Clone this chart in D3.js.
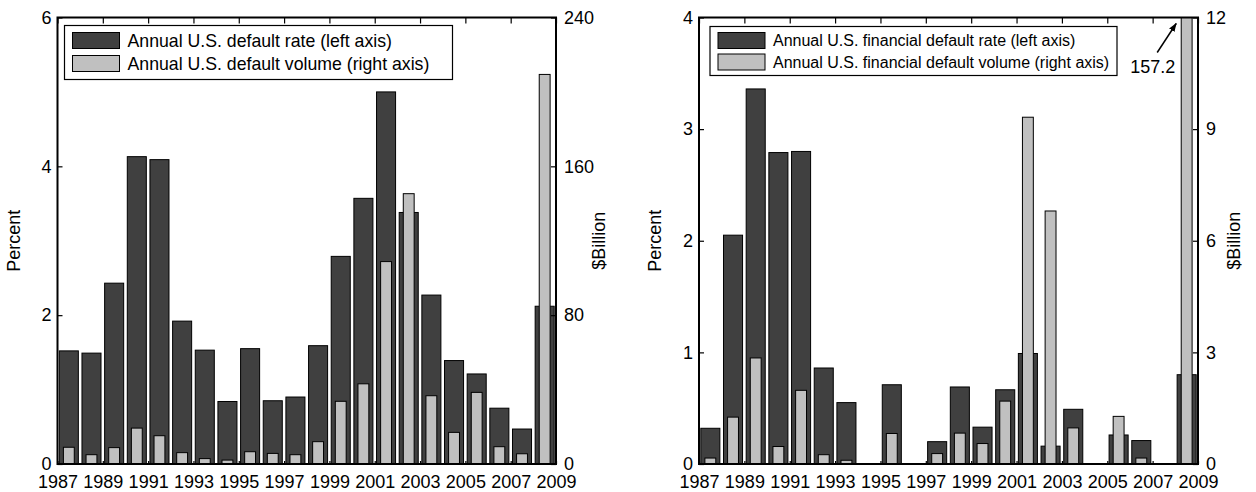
<!DOCTYPE html>
<html>
<head>
<meta charset="utf-8">
<script src="https://cdn.jsdelivr.net/npm/d3@7"></script>
<style>
    body { margin: 0; background: #fff; }
    svg { display: block; font-family: "Liberation Sans", Arial, Helvetica, sans-serif; }
</style>
</head>
<body>
<div id="chart"></div>
<script>
// years 1987..2008 (bars sit between the year ticks)
const years = [1987, 1988, 1989, 1990, 1991, 1992, 1993, 1994, 1995, 1996, 1997,
               1998, 1999, 2000, 2001, 2002, 2003, 2004, 2005, 2006, 2007, 2008];
const xTicks = [1987, 1989, 1991, 1993, 1995, 1997, 1999, 2001, 2003, 2005, 2007, 2009];

// left panel
const defaultRate = [1.52, 1.49, 2.43, 4.13, 4.09, 1.92, 1.53, 0.84, 1.55, 0.85, 0.90,
                     1.59, 2.79, 3.57, 5.00, 3.38, 2.27, 1.39, 1.21, 0.75, 0.47, 2.12];
const defaultVolume = [9.0, 5.0, 8.8, 19.3, 15.2, 6.1, 2.9, 2.1, 6.6, 5.7, 5.0,
                       12.0, 33.7, 43.1, 108.8, 145.3, 36.7, 17.0, 38.5, 9.3, 5.5, 209.4];
const rateTicksA = [0, 2, 4, 6];
const volTicksA = [0, 80, 160, 240];

// right panel
const finRate = [0.32, 2.05, 3.36, 2.79, 2.80, 0.86, 0.55, 0, 0.71, 0, 0.20,
                 0.69, 0.33, 0.665, 0.99, 0.16, 0.49, 0, 0.26, 0.21, 0, 0.80];
const finVolume = [0.16, 1.26, 2.85, 0.47, 1.98, 0.25, 0.10, 0, 0.82, 0, 0.28,
                   0.83, 0.55, 1.69, 9.32, 6.80, 0.97, 0, 1.28, 0.16, 0, 157.2];
const rateTicksB = [0, 1, 2, 3, 4];
const volTicksB = [0, 3, 6, 9, 12];

const W = 1256, H = 492;
const DARK = "#404040", LIGHT = "#c0c0c0";

const svg = d3.select("#chart").append("svg")
    .attr("width", W)
    .attr("height", H);

svg.append("defs").append("marker")
    .attr("id", "arrow")
    .attr("viewBox", "0 0 10 10")
    .attr("refX", 9).attr("refY", 5)
    .attr("markerWidth", 9).attr("markerHeight", 9)
    .attr("markerUnits", "userSpaceOnUse")
    .attr("orient", "auto")
    .append("path")
    .attr("d", "M0,1.5 L10,5 L0,8.5 Z")
    .attr("fill", "black");

class DUALBAR {
    constructor({
        left, right, top = 17.5, bottom = 464,
        rate, volume, rateTicks, volTicks,
        legend, legendBox, fontLegend = 18,
        clipId
    }) {
        this.g = svg.append("g");
        this.left = left; this.right = right;
        this.top = top; this.bottom = bottom;

        this.x = d3.scaleLinear()
            .domain([xTicks[0], xTicks[xTicks.length - 1]])
            .range([left, right]);
        this.yRate = d3.scaleLinear()
            .domain([0, d3.max(rateTicks)])
            .range([bottom, top]);
        this.yVol = d3.scaleLinear()
            .domain([0, d3.max(volTicks)])
            .range([bottom, top]);

        const step = this.x(1988) - this.x(1987);
        const volMax = d3.max(volTicks);

        this.g.append("clipPath").attr("id", clipId)
            .append("rect")
            .attr("x", left).attr("y", top)
            .attr("width", right - left).attr("height", bottom - top);

        const bars = this.g.append("g").attr("clip-path", `url(#${clipId})`);

        // dark bars (rate, left axis)
        bars.append("g").selectAll("rect")
            .data(years.map((y, i) => ({ year: y, v: rate[i] })))
            .enter().append("rect")
            .attr("x", d => this.x(d.year + 0.5) - step * 0.42)
            .attr("width", step * 0.84)
            .attr("y", d => this.yRate(d.v))
            .attr("height", d => this.yRate(0) - this.yRate(d.v))
            .attr("fill", DARK)
            .attr("stroke", "black")
            .attr("stroke-width", 1);

        // light bars (volume, right axis) - off-scale ones run past the frame
        bars.append("g").selectAll("rect")
            .data(years.map((y, i) => ({ year: y, v: volume[i] })))
            .enter().append("rect")
            .attr("x", d => this.x(d.year + 0.5) - step * 0.24)
            .attr("width", step * 0.48)
            .attr("y", d => d.v > volMax ? top - 2 : this.yVol(d.v))
            .attr("height", d => this.yVol(0) - (d.v > volMax ? top - 2 : this.yVol(d.v)))
            .attr("fill", LIGHT)
            .attr("stroke", "black")
            .attr("stroke-width", 1);

        // axes
        const fontTick = 18;
        const styleAxis = (sel) => {
            sel.select(".domain").remove();
            sel.selectAll("line").attr("stroke", "black").attr("stroke-width", 1.2);
            sel.selectAll("text").attr("font-size", fontTick).attr("fill", "black")
               .attr("font-family", null);
        };

        this.g.append("g")
            .attr("transform", `translate(0,${bottom})`)
            .call(d3.axisBottom(this.x).tickValues(xTicks).tickFormat(d3.format("d"))
                .tickSizeInner(-3).tickSizeOuter(0).tickPadding(11))
            .call(styleAxis);

        this.g.append("g")
            .attr("transform", `translate(0,${top})`)
            .call(d3.axisTop(this.x).tickValues(xTicks).tickFormat("")
                .tickSizeInner(-6).tickSizeOuter(0))
            .call(styleAxis);

        this.g.append("g")
            .attr("transform", `translate(${left},0)`)
            .call(d3.axisLeft(this.yRate).tickValues(rateTicks).tickFormat(d3.format("d"))
                .tickSizeInner(-5).tickSizeOuter(0).tickPadding(6))
            .call(styleAxis);

        this.g.append("g")
            .attr("transform", `translate(${right},0)`)
            .call(d3.axisRight(this.yVol).tickValues(volTicks).tickFormat(d3.format("d"))
                .tickSizeInner(-5).tickSizeOuter(0).tickPadding(8))
            .call(styleAxis);

        // frame
        this.g.append("rect")
            .attr("x", left).attr("y", top)
            .attr("width", right - left).attr("height", bottom - top)
            .attr("fill", "none")
            .attr("stroke", "black")
            .attr("stroke-width", 2);

        // axis titles
        const midY = (top + bottom) / 2;
        this.g.append("text")
            .attr("transform", `translate(${left - 38},${midY}) rotate(-90)`)
            .attr("text-anchor", "middle")
            .attr("font-size", 18)
            .text("Percent");
        this.g.append("text")
            .attr("transform", `translate(${right + legendBox.titleOff},${midY}) rotate(-90)`)
            .attr("text-anchor", "middle")
            .attr("font-size", 18)
            .text("$Billion");

        // legend
        const lg = this.g.append("g")
            .attr("transform", `translate(${left + legendBox.dx},${top + legendBox.dy})`);
        lg.append("rect")
            .attr("width", legendBox.w).attr("height", legendBox.h)
            .attr("fill", "white").attr("stroke", "black").attr("stroke-width", 1.2);
        legend.forEach((txt, i) => {
            const rowY = legendBox.row0 + i * legendBox.rowGap;
            lg.append("rect")
                .attr("x", 8).attr("y", rowY - 8)
                .attr("width", 47).attr("height", 16)
                .attr("fill", i === 0 ? DARK : LIGHT)
                .attr("stroke", "black").attr("stroke-width", 1);
            lg.append("text")
                .attr("x", legendBox.textX).attr("y", rowY)
                .attr("dy", "0.35em")
                .attr("font-size", fontLegend)
                .text(txt);
        });
    }
}

const panelA = new DUALBAR({
    left: 57.5, right: 556,
    rate: defaultRate, volume: defaultVolume,
    rateTicks: rateTicksA, volTicks: volTicksA,
    legend: ["Annual U.S. default rate (left axis)", "Annual U.S. default volume (right axis)"],
    legendBox: { dx: 7, dy: 8, w: 388, h: 54, row0: 15, rowGap: 23, textX: 63, titleOff: 49 },
    fontLegend: 17.7,
    clipId: "clipA"
});

const panelB = new DUALBAR({
    left: 699, right: 1198,
    rate: finRate, volume: finVolume,
    rateTicks: rateTicksB, volTicks: volTicksB,
    legend: ["Annual U.S. financial default rate (left axis)", "Annual U.S. financial default volume (right axis)"],
    legendBox: { dx: 11, dy: 9, w: 407, h: 49, row0: 14, rowGap: 21.5, textX: 63, titleOff: 42 },
    fontLegend: 16,
    clipId: "clipB"
});

// off-scale annotation for the 2008 financial volume bar
const stepB = panelB.x(1988) - panelB.x(1987);
const barLeft = panelB.x(2008.5) - stepB * 0.24;
panelB.g.append("line")
    .attr("x1", barLeft - 24).attr("y1", panelB.top + 35)
    .attr("x2", barLeft - 5).attr("y2", panelB.top + 6)
    .attr("stroke", "black").attr("stroke-width", 1.5)
    .attr("marker-end", "url(#arrow)");
panelB.g.append("text")
    .attr("x", barLeft - 6).attr("y", panelB.top + 55)
    .attr("text-anchor", "end")
    .attr("font-size", 18)
    .text(finVolume[finVolume.length - 1].toFixed(1));
</script>
</body>
</html>
